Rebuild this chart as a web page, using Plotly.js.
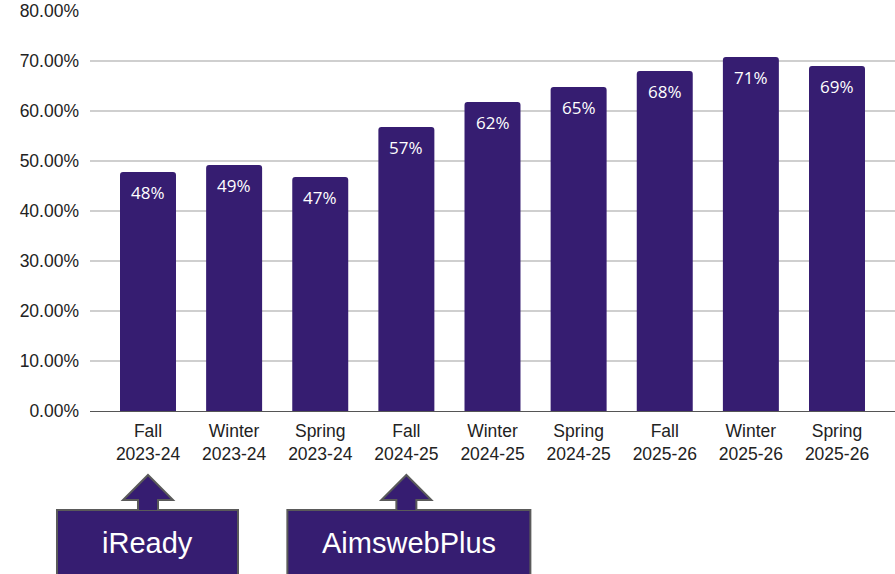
<!DOCTYPE html>
<html><head><meta charset="utf-8">
<script src="https://cdn.plot.ly/plotly-3.0.1.min.js"></script>
<style>html,body{margin:0;padding:0;background:#fff}#chart{width:895px;height:574px}</style>
</head><body><div id="chart"></div>
<script>
const categories = ['Fall<br>2023-24','Winter<br>2023-24','Spring<br>2023-24','Fall<br>2024-25','Winter<br>2024-25','Spring<br>2024-25','Fall<br>2025-26','Winter<br>2025-26','Spring<br>2025-26'];
const values = [0.478, 0.492, 0.468, 0.568, 0.618, 0.648, 0.680, 0.708, 0.690];
const labels = ['48%','49%','47%','57%','62%','65%','68%','71%','69%'];
const assessments = ['iReady','AimswebPlus'];
const assessmentStart = [0, 3];

const W = 895, H = 574, mL = 90, mR = 0, mT = 11, mB = 163;
const plotW = W - mL - mR, plotH = H - mT - mB;
const r0 = -0.6734, r1 = 8.6734;
const BAR = '#361d71';

function px2paperX(idx, off){ return (idx - r0)/(r1 - r0) + off/plotW; }
function py2paperY(py){ return (H - mB - py)/plotH; }

const shapes = [];
const annotations = [];
const boxes = [[-91, 90], [-119, 124]];
assessmentStart.forEach((idx, k) => {
  const xp = off => px2paperX(idx, off);
  const yTip = py2paperY(475), yHead = py2paperY(500), yBox = py2paperY(510), yBot = py2paperY(577);
  shapes.push({type:'rect', xref:'paper', yref:'paper', x0:xp(boxes[k][0]), x1:xp(boxes[k][1]), y0:yBot, y1:yBox,
    fillcolor:BAR, line:{color:'#5a5a5a', width:2}});
  const path = `M ${xp(-10)},${yBox} L ${xp(-10)},${yHead} L ${xp(-25)},${yHead} L ${xp(0)},${yTip} L ${xp(25)},${yHead} L ${xp(10)},${yHead} L ${xp(10)},${yBox}`;
  shapes.push({type:'path', xref:'paper', yref:'paper', path: path, fillcolor:BAR, line:{color:'#5a5a5a', width:2}});
  annotations.push({xref:'paper', yref:'paper', x:xp((boxes[k][0]+boxes[k][1])/2), y:py2paperY(543),
    text:assessments[k], showarrow:false, xanchor:'center', yanchor:'middle',
    font:{family:'Liberation Sans, Arial, sans-serif', size:29, color:'#ffffff'}});
});

categories.forEach((c, i) => {
  annotations.push({x:c, y:values[i], xref:'x', yref:'y', text:labels[i], showarrow:false,
    yanchor:'top', xanchor:'center', yshift:-7,
    font:{family:'Open Sans, Noto Sans, sans-serif', size:17, color:'#ffffff'}});
});

const trace = {
  type:'bar', x:categories, y:values, width:0.65,
  marker:{color:BAR, cornerradius:3},
  hoverinfo:'skip'
};

const layout = {
  width:W, height:H,
  margin:{l:mL, r:mR, t:mT, b:mB, pad:0},
  paper_bgcolor:'#ffffff', plot_bgcolor:'#ffffff',
  showlegend:false,
  font:{family:'Liberation Sans, Arial, sans-serif', size:17.5, color:'#222222'},
  xaxis:{type:'category', range:[r0, r1], showgrid:false, showline:true, linecolor:'#555555', linewidth:1.3,
    ticks:'', ticklabelstandoff:4, tickfont:{size:17.5, color:'#222222'}, fixedrange:true, zeroline:false},
  yaxis:{range:[0, 0.8], dtick:0.1, tickformat:'.2%', showgrid:true, gridcolor:'#cfcfcf', gridwidth:1.3,
    zeroline:false, showline:false, ticks:'', ticklabelstandoff:10, tickfont:{size:17.5, color:'#222222'}, fixedrange:true},
  shapes:shapes, annotations:annotations
};

Plotly.newPlot('chart', [trace], layout, {displayModeBar:false, staticPlot:true});
</script></body></html>
